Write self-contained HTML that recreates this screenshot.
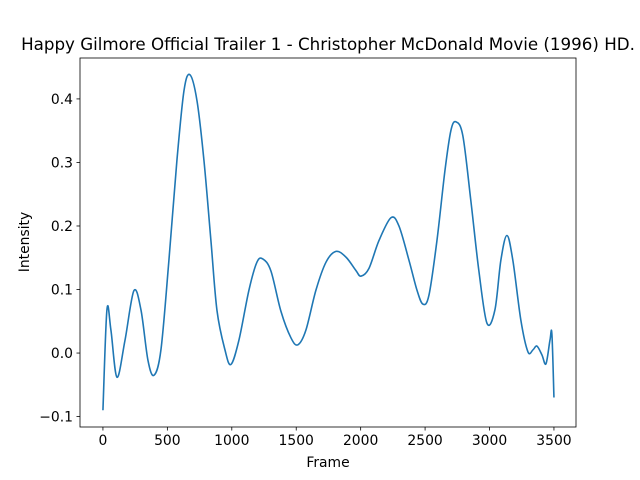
<!DOCTYPE html>
<html><head><meta charset="utf-8"><style>
body{margin:0;background:#fff;}
svg{display:block;font-family:"DejaVu Sans","Liberation Sans",sans-serif;}
</style></head><body>
<svg id="chart" width="640" height="480" viewBox="0 0 640 480">
<rect width="640" height="480" fill="#fff"/>
<text x="328" y="50" text-anchor="middle" font-size="16.7" fill="#000">Happy Gilmore Official Trailer 1 - Christopher McDonald Movie (1996) HD.</text>
<g id="xticks"></g>
<g id="yticks"></g>
<path id="line" fill="none" stroke="#1f77b4" stroke-width="1.6" stroke-linejoin="round"/>
<rect x="80" y="58" width="496" height="369" fill="none" stroke="#000" stroke-width="0.8"/>
<text x="328" y="467" text-anchor="middle" font-size="13.9">Frame</text>
<text transform="translate(29,242) rotate(-90)" text-anchor="middle" font-size="13.9">Intensity</text>
</svg>
<script>
const frames=[0,31,62,109,171,240,295,349,396,450,512,574,629,675,730,784,838,885,947,993,1055,1133,1195,1242,1304,1381,1459,1513,1575,1653,1731,1808,1886,1963,2002,2064,2142,2235,2297,2375,2437,2483,2530,2592,2654,2700,2739,2793,2855,2917,2980,3042,3088,3135,3181,3243,3298,3337,3368,3407,3438,3469,3484,3500];
const intensity=[-0.09,0.068,0.036,-0.038,0.02,0.098,0.068,-0.011,-0.035,0.005,0.146,0.303,0.413,0.438,0.397,0.303,0.177,0.067,0.005,-0.018,0.02,0.099,0.143,0.148,0.129,0.066,0.024,0.013,0.036,0.099,0.143,0.160,0.151,0.130,0.121,0.133,0.177,0.213,0.200,0.146,0.099,0.077,0.091,0.177,0.287,0.350,0.364,0.342,0.240,0.130,0.047,0.068,0.146,0.185,0.146,0.052,0.002,0.005,0.011,-0.003,-0.017,0.02,0.03,-0.07];
const xTicks=[0,500,1000,1500,2000,2500,3000,3500];
const yTicks=[-0.1,0.0,0.1,0.2,0.3,0.4];
const yTickLabels=["−0.1","0.0","0.1","0.2","0.3","0.4"];
const L=80,R=576,T=58,B=427;
const xmin=-178,xmax=xmin+(R-L)/0.12886;
const ymin=-0.1164,ymax=0.4644;
const sx=v=>L+(v-xmin)/(xmax-xmin)*(R-L);
const sy=v=>B-(v-ymin)/(ymax-ymin)*(B-T);
const NS="http://www.w3.org/2000/svg";
const xg=document.getElementById('xticks'),yg=document.getElementById('yticks');
xTicks.forEach(t=>{
 const x=sx(t);
 const l=document.createElementNS(NS,'line');
 l.setAttribute('x1',x);l.setAttribute('x2',x);l.setAttribute('y1',B);l.setAttribute('y2',B+3.5);l.setAttribute('stroke','#000');l.setAttribute('stroke-width','0.8');
 
 
 xg.appendChild(l);
 const s=document.createElementNS(NS,'text');
 s.setAttribute('x',x);s.setAttribute('y',B+18);s.setAttribute('text-anchor','middle');s.setAttribute('font-size','13.9');s.textContent=t;
 
 
 xg.appendChild(s);
});
yTicks.forEach((t,i)=>{
 const y=sy(t);
 const l=document.createElementNS(NS,'line');
 l.setAttribute('x1',L-3.5);l.setAttribute('x2',L);l.setAttribute('y1',y);l.setAttribute('y2',y);l.setAttribute('stroke','#000');l.setAttribute('stroke-width','0.8');
 
 
 yg.appendChild(l);
 const s=document.createElementNS(NS,'text');
 s.setAttribute('x',L-7);s.setAttribute('y',y+5);s.setAttribute('text-anchor','end');s.setAttribute('font-size','13.9');s.textContent=yTickLabels[i];
 
 
 yg.appendChild(s);
});
const P=frames.map((f,i)=>[sx(f),sy(intensity[i])]);
let d='M'+P[0][0]+','+P[0][1];
for(let i=0;i<P.length-1;i++){
 const p0=P[Math.max(0,i-1)],p1=P[i],p2=P[i+1],p3=P[Math.min(P.length-1,i+2)];
 const c1=[p1[0]+(p2[0]-p0[0])/6,p1[1]+(p2[1]-p0[1])/6];
 const c2=[p2[0]-(p3[0]-p1[0])/6,p2[1]-(p3[1]-p1[1])/6];
 d+=' C'+c1[0]+','+c1[1]+' '+c2[0]+','+c2[1]+' '+p2[0]+','+p2[1];
}
document.getElementById('line').setAttribute('d',d);
</script>
</body></html>
